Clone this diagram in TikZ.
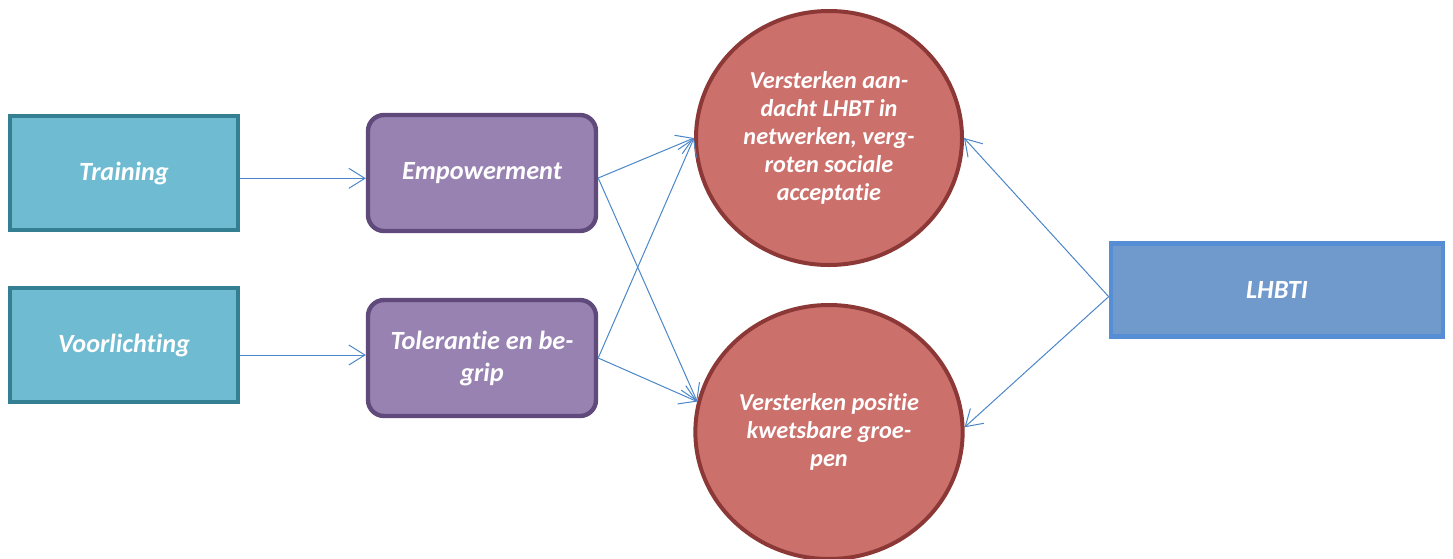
\documentclass[tikz,border=0pt]{standalone}
\usepackage{fontspec}
\setmainfont{Carlito}[Ligatures=NoCommon]
\usepackage{xcolor}
\usepackage{tikz}
\usetikzlibrary{shapes.geometric,arrows.meta}
\definecolor{tealfill}{HTML}{6FBBD2}
\definecolor{tealline}{HTML}{357F92}
\definecolor{purplefill}{HTML}{9882B2}
\definecolor{purpleline}{HTML}{5F4A7B}
\definecolor{redfill}{HTML}{CC706C}
\definecolor{redline}{HTML}{8C3836}
\definecolor{bluefill}{HTML}{7099CC}
\definecolor{blueline}{HTML}{558ED5}
\definecolor{linkblue}{HTML}{4A86C8}

\begin{document}
\begin{tikzpicture}[x=0.75pt,y=-0.75pt,
  every node/.style={font=\fontsize{19.7}{24}\selectfont\bfseries\itshape,text=white,align=center},
  inbox/.style={rectangle,draw=tealline,fill=tealfill,line width=3.5pt,minimum width=171pt,minimum height=85.5pt},
  midbox/.style={rectangle,rounded corners=12pt,draw=purpleline,fill=purplefill,line width=3.3pt,minimum width=171pt,minimum height=87pt},
  goal/.style={ellipse,draw=redline,fill=redfill,line width=3pt,minimum width=199.5pt,minimum height=190.5pt,font=\fontsize{18.2}{21}\selectfont\bfseries\itshape},
  groupbox/.style={rectangle,draw=blueline,fill=bluefill,line width=3.5pt,minimum width=249pt,minimum height=70pt},
  link/.style={draw=linkblue,line width=0.75pt,-{Straight Barb[length=12pt,width=15pt]}}]
\useasboundingbox (0,0) rectangle (1453,558);
%
\node (training) at (124,173) [inbox] {Training};
\node (voorl) at (124,345) [inbox] {Voorlichting};
%
\node (empower) at (482,173) [midbox] {Empowerment};
\node (toler) at (482,358) [midbox] {Tolerantie en be-\\grip};
%
\node (circ1) at (829,138) [goal] {Versterken aan-\\dacht LHBT in\\netwerken, verg-\\roten sociale\\acceptatie};
\node (circ2) at (829,432) [goal] {Versterken positie\\kwetsbare groe-\\pen};
%
\node (lhbti) at (1277,290) [groupbox] {LHBTI};
%%
\draw[link] ([yshift=-4pt]training.east) -- ([yshift=-4pt]empower.west);
\draw[link] ([yshift=-7.5pt]voorl.east) -- ([yshift=2.25pt]toler.west);
%
\draw[link] ([yshift=-3.75pt]empower.east) -- (circ1.west);
\draw[link] ([yshift=-3.75pt]empower.east) -- (circ2.167);
\draw[link] (toler.east) -- (circ1.west);
\draw[link] (toler.east) -- (circ2.167);
%
\draw[link] ([yshift=-5pt]lhbti.west) -- (circ1.east);
\draw[link] ([yshift=-5pt]lhbti.west) -- (circ2.2);
\end{tikzpicture}
\end{document}
